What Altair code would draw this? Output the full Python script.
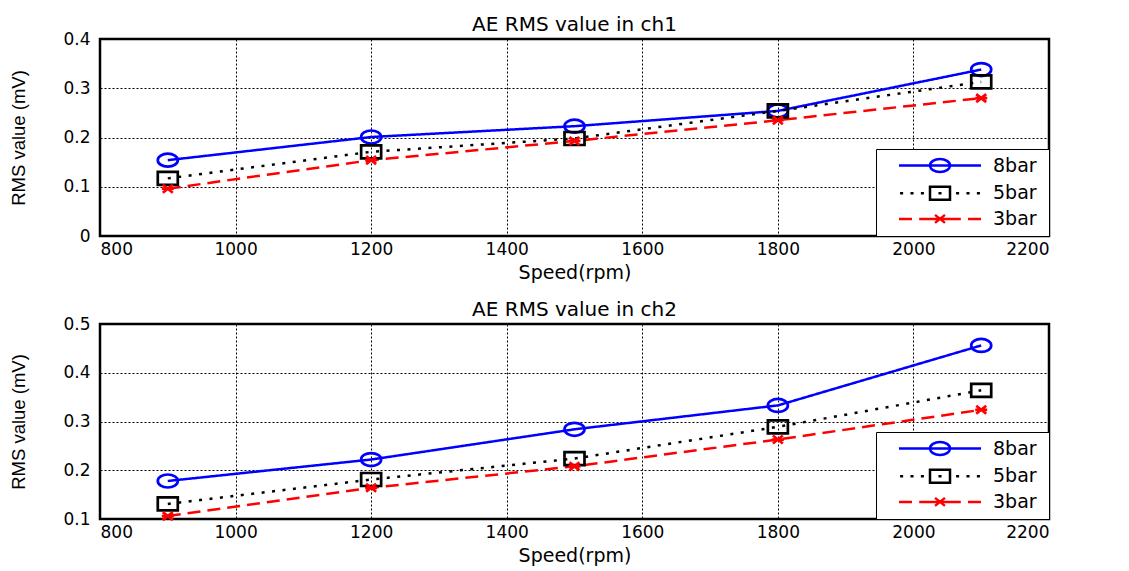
import altair as alt
import pandas as pd

speed = [900, 1200, 1500, 1800, 2100]
series = ["8bar", "5bar", "3bar"]

ch1_8bar = [0.154, 0.201, 0.223, 0.254, 0.338]
ch1_5bar = [0.117, 0.171, 0.198, 0.254, 0.313]
ch1_3bar = [0.096, 0.154, 0.193, 0.235, 0.280]

ch2_8bar = [0.178, 0.222, 0.284, 0.333, 0.456]
ch2_5bar = [0.131, 0.181, 0.224, 0.289, 0.364]
ch2_3bar = [0.106, 0.164, 0.208, 0.263, 0.324]

x_ticks = [800, 1000, 1200, 1400, 1600, 1800, 2000, 2200]
ch1_y_ticks = [0, 0.1, 0.2, 0.3, 0.4]
ch2_y_ticks = [0.1, 0.2, 0.3, 0.4, 0.5]

colors = ["#0000ff", "#000000", "#ff0000"]
dashes = [[1, 0], [3, 7.5], [13, 7]]

# plot markers (unit path scaled by sqrt(size)/2)
marker_paths = [
    "M-1,0A1,0.65 0 1,0 1,0A1,0.65 0 1,0 -1,0Z",
    "M-1,-0.65H1V0.65H-1Z",
    "M-0.5,-0.4L0.5,0.4M-0.5,0.4L0.5,-0.4M-0.6,0H0.6",
]


# legend symbols: line sample + marker (+ an invisible zero-length end point that widens the box)
def dots(xs, h=0.19):
    return "".join(f"M{x - h:.3f},0H{x + h:.3f}" for x in xs)


legend_end = "M12.1,0h0"
legend_paths = [
    "M-5.125,0H5.125M-1.25,0A1.25,0.81 0 1,0 1.25,0A1.25,0.81 0 1,0 -1.25,0Z" + legend_end,
    dots([-4.8, -3.5, -2.2, 0, 2.2, 3.5, 4.8]) + "M-1.25,-0.81H1.25V0.81H-1.25Z" + legend_end,
    "M-5.125,0H-3.5M-2.6,0H2.6M3.5,0H5.125M-0.62,-0.5L0.62,0.5M-0.62,0.5L0.62,-0.5" + legend_end,
]


def make_df(v8, v5, v3):
    rows = []
    for name, vals in zip(series, [v8, v5, v3]):
        for s, v in zip(speed, vals):
            rows.append({"speed": s, "value": v, "series": name})
    return pd.DataFrame(rows)


def panel(df, title, ydomain, yticks, height):
    x = alt.X("speed:Q", scale=alt.Scale(domain=[800, 2200], nice=False, zero=False),
              axis=alt.Axis(values=x_ticks, format="d", title="Speed(rpm)"))
    y = alt.Y("value:Q", scale=alt.Scale(domain=ydomain, nice=False, zero=False),
              axis=alt.Axis(values=yticks, format="~g", title="RMS value (mV)"))
    base = alt.Chart(df)
    layers = []
    for s, c, d in zip(series, colors, dashes):
        layers.append(
            base.transform_filter(alt.datum.series == s)
            .mark_line(color=c, strokeDash=d, strokeWidth=2.5, strokeCap="butt")
            .encode(x=x, y=y)
        )
    for s, c, path in zip(series, colors, marker_paths):
        layers.append(
            base.transform_filter(alt.datum.series == s)
            .mark_point(filled=False, color=c, strokeWidth=2.7, size=400, opacity=1, shape=path)
            .encode(x=x, y=y)
        )
    leg = alt.Legend(
        title=None, orient="bottom-right", offset=0, padding=7,
        symbolSize=256, symbolStrokeWidth=2.5, symbolOffset=47.5, symbolOpacity=1,
        labelOffset=43.5, rowPadding=4.7, labelFont="DejaVu Sans", labelFontSize=19,
        labelColor="black", strokeColor="black", fillColor="white",
    )
    legend_layer = (
        base.transform_filter("datum.speed < 1000")
        .mark_point(filled=False, strokeWidth=2.5, opacity=0)
        .encode(
            x=x, y=y,
            stroke=alt.Stroke("series:N", scale=alt.Scale(domain=series, range=colors), legend=leg),
            shape=alt.Shape("series:N", scale=alt.Scale(domain=series, range=legend_paths), legend=leg),
        )
    )
    layers.append(legend_layer)
    return alt.layer(*layers).properties(width=949, height=height, title=title)


top = panel(make_df(ch1_8bar, ch1_5bar, ch1_3bar), "AE RMS value in ch1", [0, 0.4], ch1_y_ticks, 197)
bottom = panel(make_df(ch2_8bar, ch2_5bar, ch2_3bar), "AE RMS value in ch2", [0.1, 0.5], ch2_y_ticks, 195)

chart = (
    alt.vconcat(top, bottom, spacing=14, background="white",
                padding={"top": 5, "bottom": 0, "left": 0, "right": 5})
    .resolve_scale(stroke="independent", shape="independent")
    .configure_view(stroke="black", strokeWidth=2.5)
    .configure_axis(
        grid=True, gridColor="black", gridDash=[2, 2], gridOpacity=1, gridWidth=1,
        domain=False, ticks=False,
        labelFont="DejaVu Sans", labelFontSize=17, labelColor="black",
        titleColor="black", titleFontWeight="normal",
    )
    .configure_axisX(labelPadding=5, titleFont="DejaVu Sans", titleFontSize=19, titlePadding=6)
    .configure_axisY(labelPadding=10, titleFont="Liberation Sans", titleFontSize=18.5, titlePadding=34)
    .configure_title(font="DejaVu Sans", fontSize=20, fontWeight="normal", color="black", anchor="middle", offset=-5)
)

chart.save("out.html", embed_options={"renderer": "svg", "actions": False})
